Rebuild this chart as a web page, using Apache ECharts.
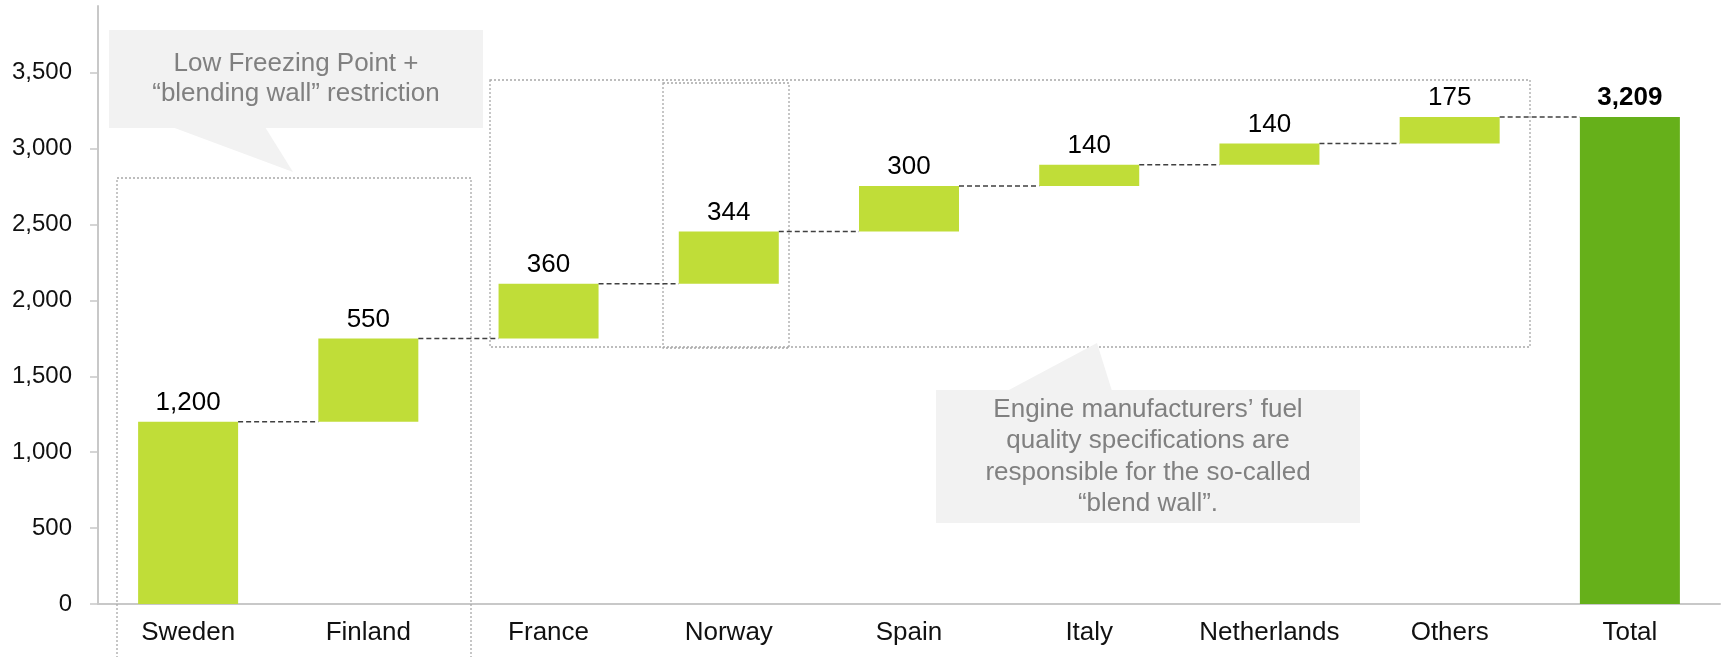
<!DOCTYPE html>
<html>
<head>
<meta charset="utf-8">
<script src="https://cdn.jsdelivr.net/npm/echarts@6/dist/echarts.min.js"></script>
<style>
  html, body { margin: 0; padding: 0; background: #fff; }
  #chart { width: 1725px; height: 657px; }
</style>
</head>
<body>
<div id="chart"></div>
<script>
// ---- Data ----
const categories = ['Sweden', 'Finland', 'France', 'Norway', 'Spain', 'Italy', 'Netherlands', 'Others', 'Total'];
const increments = [1200, 550, 360, 344, 300, 140, 140, 175];
const totalValue = 3209;
const yTicks = [0, 500, 1000, 1500, 2000, 2500, 3000, 3500];
const yMax = 3940;

const calloutLeftText = 'Low Freezing Point +\n\u201Cblending wall\u201D restriction';
const calloutRightText = 'Engine manufacturers\u2019 fuel\nquality specifications are\nresponsible for the so-called\n\u201Cblend wall\u201D.';

// ---- Derived waterfall structure ----
const bases = [];
const cumTops = [];
let run = 0;
increments.forEach(v => { bases.push(run); run += v; cumTops.push(run); });
const baseData = bases.concat([0]);
const valueData = increments.map(v => ({ value: v }))
  .concat([{ value: totalValue, itemStyle: { color: '#66b01a' }, label: { fontWeight: 'bold' } }]);
const connectorData = cumTops.map((t, i) => [i, t]);

const FONT = '"Liberation Sans", Arial, Helvetica, sans-serif';
const fmt = v => Number(v).toLocaleString('en-US');
const BAR_W = 100;

const chart = echarts.init(document.getElementById('chart'), null, { renderer: 'canvas' });

const dotted = { stroke: '#a8a8a8', lineWidth: 1.3, lineDash: [2, 2], fill: null };

chart.setOption({
  animation: false,
  backgroundColor: '#ffffff',
  grid: { left: 98, right: 5, top: 6, bottom: 53, containLabel: false },
  xAxis: {
    type: 'category',
    data: categories,
    axisLine: { show: true, lineStyle: { color: '#c8c8c8', width: 2 } },
    axisTick: { show: false },
    axisLabel: { color: '#111', fontSize: 26, fontFamily: FONT, margin: 16, interval: 0 },
    splitLine: { show: false }
  },
  yAxis: {
    type: 'value',
    min: 0,
    max: yMax,
    interval: 500,
    axisLine: { show: true, lineStyle: { color: '#c8c8c8', width: 2 } },
    axisTick: { show: true, length: 8, lineStyle: { color: '#c8c8c8', width: 1.5 }, customValues: yTicks },
    axisLabel: { color: '#111', fontSize: 24, fontFamily: FONT, margin: 26, formatter: fmt, customValues: yTicks },
    splitLine: { show: false }
  },
  series: [
    {
      type: 'bar', stack: 'w', barWidth: BAR_W, silent: true,
      itemStyle: { color: 'rgba(0,0,0,0)' },
      data: baseData
    },
    {
      type: 'bar', stack: 'w', barWidth: BAR_W,
      itemStyle: { color: '#c0dd38' },
      label: {
        show: true, position: 'top', distance: 6,
        color: '#000', fontSize: 26, fontFamily: FONT,
        formatter: p => fmt(p.value)
      },
      data: valueData
    },
    {
      type: 'custom',
      silent: true,
      z: 5,
      renderItem: function (params, api) {
        const p = api.coord([api.value(0), api.value(1)]);
        const bw = api.size([1, 0])[0];
        return {
          type: 'line',
          shape: { x1: p[0] + BAR_W / 2, y1: p[1], x2: p[0] + bw - BAR_W / 2, y2: p[1] },
          style: { stroke: '#404040', lineWidth: 1.5, lineDash: [5, 3] }
        };
      },
      data: connectorData
    }
  ],
  graphic: [
    { type: 'rect', z: 1, shape: { x: 117, y: 178, width: 354, height: 480 }, style: dotted },
    { type: 'rect', z: 1, shape: { x: 490, y: 80, width: 1040, height: 267 }, style: dotted },
    { type: 'rect', z: 1, shape: { x: 663, y: 83, width: 126, height: 265 }, style: dotted },
    // left callout
    { type: 'polygon', z: 10, shape: { points: [[172, 127], [265, 127], [293, 172]] }, style: { fill: '#f2f2f2' } },
    { type: 'rect', z: 10, shape: { x: 109, y: 30, width: 374, height: 98 }, style: { fill: '#f2f2f2' } },
    { type: 'text', z: 11, x: 296, y: 79,
      style: { text: calloutLeftText, fill: '#808080', font: '26px ' + FONT, lineHeight: 30, align: 'center', verticalAlign: 'middle' } },
    // right callout
    { type: 'polygon', z: 10, shape: { points: [[1007, 391], [1112, 391], [1097, 343]] }, style: { fill: '#f2f2f2' } },
    { type: 'rect', z: 10, shape: { x: 936, y: 390, width: 424, height: 133 }, style: { fill: '#f2f2f2' } },
    { type: 'text', z: 11, x: 1148, y: 457,
      style: { text: calloutRightText, fill: '#808080', font: '26px ' + FONT, lineHeight: 31.5, align: 'center', verticalAlign: 'middle' } }
  ]
});
</script>
</body>
</html>
